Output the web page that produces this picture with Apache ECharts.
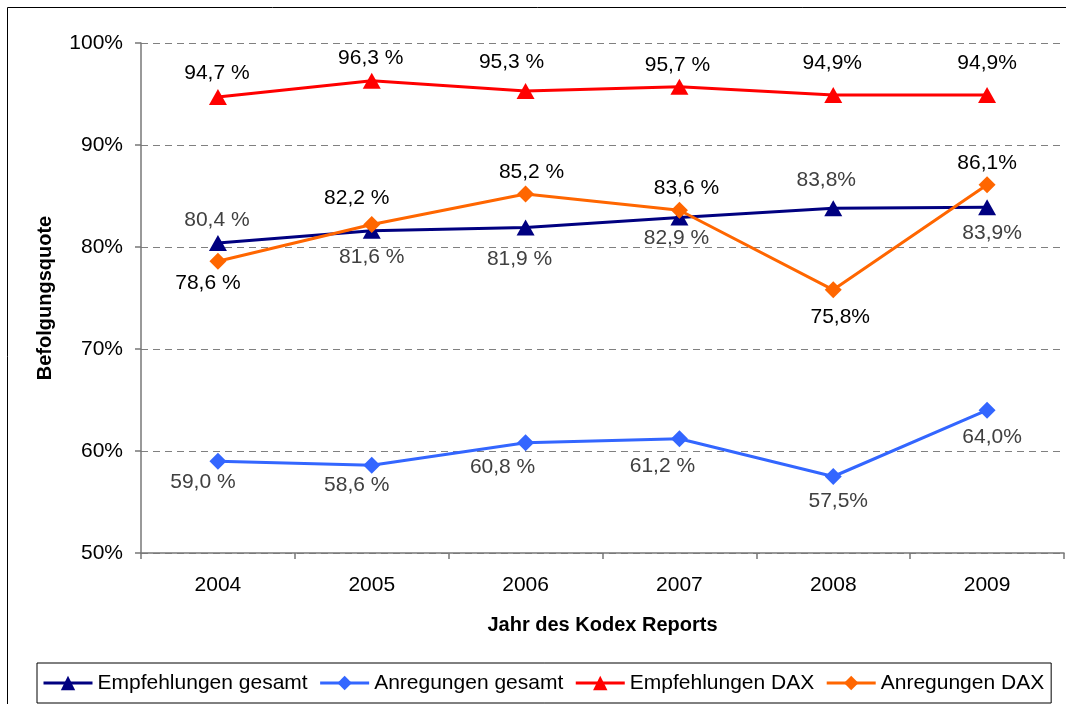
<!DOCTYPE html>
<html>
<head>
<meta charset="utf-8">
<script src="https://cdn.jsdelivr.net/npm/echarts@6/dist/echarts.min.js"></script>
<style>
  html, body { margin: 0; padding: 0; background: #fff; }
  #chart { width: 1066px; height: 704px; }
</style>
</head>
<body>
<div id="chart"></div>
<script>
// data
var years = ['2004', '2005', '2006', '2007', '2008', '2009'];
var empfGesamt = [80.4, 81.6, 81.9, 82.9, 83.8, 83.9];
var anrGesamt = [59.0, 58.6, 60.8, 61.2, 57.5, 64.0];
var empfDax = [94.7, 96.3, 95.3, 95.7, 94.9, 94.9];
var anrDax = [78.6, 82.2, 85.2, 83.6, 75.8, 86.1];

// label texts as printed
var empfGesamtText = ['80,4 %', '81,6 %', '81,9 %', '82,9 %', '83,8%', '83,9%'];
var anrGesamtText = ['59,0 %', '58,6 %', '60,8 %', '61,2 %', '57,5%', '64,0%'];
var empfDaxText = ['94,7 %', '96,3 %', '95,3 %', '95,7 %', '94,9%', '94,9%'];
var anrDaxText = ['78,6 %', '82,2 %', '85,2 %', '83,6 %', '75,8%', '86,1%'];

// label placement (px offset from the point)
var empfGesamtOff = [[-1, -23], [0, 27], [-6, 32], [-3, 21], [-7, -28], [5, 26]];
var anrGesamtOff = [[-15, 21], [-15, 20], [-23, 24], [-17, 27], [5, 25], [5, 27]];
var empfDaxOff = [[-1, -24], [-1, -23], [-14, -29], [-2, -22], [-1, -32], [0, -32]];
var anrDaxOff = [[-10, 22], [-15, -26], [6, -22], [7, -22], [7, 27], [0, -22]];

var FONT = '"Liberation Sans", Arial, sans-serif';

function points(values, texts, offs, color) {
  var out = [];
  for (var i = 0; i < values.length; i++) {
    out.push({
      value: values[i],
      label: {
        show: true,
        position: 'inside',
        offset: offs[i],
        formatter: texts[i],
        color: color,
        fontSize: 21,
        fontFamily: FONT
      }
    });
  }
  return out;
}

function lineSeries(name, color, symbol, size, values, texts, offs, labelColor) {
  return {
    name: name,
    type: 'line',
    symbol: symbol,
    symbolSize: size,
    showAllSymbol: true,
    lineStyle: { color: color, width: 3 },
    itemStyle: { color: color },
    emphasis: { disabled: true },
    data: points(values, texts, offs, labelColor)
  };
}

var chart = echarts.init(document.getElementById('chart'));
chart.setOption({
  animation: false,
  textStyle: { fontFamily: FONT },
  graphic: [{
    type: 'rect',
    shape: { x: 7.5, y: 7.5, width: 1070, height: 710 },
    style: { fill: 'none', stroke: '#000', lineWidth: 1 },
    silent: true
  }],
  grid: { left: 141, right: 2, top: 43, bottom: 151 },
  legend: {
    left: 37,
    top: 663,
    padding: [9, 7, 9, 5],
    itemGap: 11,
    itemWidth: 49,
    itemHeight: 18,
    borderColor: '#000',
    borderWidth: 1,
    lineStyle: { width: 3 },
    textStyle: { fontSize: 21, color: '#000', fontFamily: FONT, lineHeight: 22 },
    data: ['Empfehlungen gesamt', 'Anregungen gesamt', 'Empfehlungen DAX', 'Anregungen DAX']
  },
  xAxis: {
    type: 'category',
    data: years,
    boundaryGap: true,
    name: 'Jahr des Kodex Reports',
    nameLocation: 'middle',
    nameGap: 62,
    nameTextStyle: { fontSize: 20, fontWeight: 'bold', color: '#000', fontFamily: FONT },
    axisLine: { lineStyle: { color: '#777', width: 1.5 } },
    axisTick: { show: true, length: 6, interval: 0, lineStyle: { color: '#777', width: 1.5 } },
    axisLabel: { fontSize: 21, color: '#000', margin: 22, fontFamily: FONT }
  },
  yAxis: {
    type: 'value',
    min: 50,
    max: 100,
    interval: 10,
    name: 'Befolgungsquote',
    nameLocation: 'middle',
    nameGap: 86,
    nameTextStyle: { fontSize: 20, fontWeight: 'bold', color: '#000', fontFamily: FONT },
    axisLine: { show: true, lineStyle: { color: '#777', width: 1.5 } },
    axisTick: { show: true, length: 6, lineStyle: { color: '#777', width: 1.5 } },
    axisLabel: { fontSize: 21, color: '#000', margin: 18, formatter: '{value}%', fontFamily: FONT },
    splitLine: { show: true, lineStyle: { color: '#808080', type: [7, 5], width: 1 } }
  },
  series: [
    lineSeries('Empfehlungen gesamt', '#000080', 'triangle', [18, 16], empfGesamt, empfGesamtText, empfGesamtOff, '#404040'),
    lineSeries('Anregungen gesamt', '#3366FF', 'diamond', 17, anrGesamt, anrGesamtText, anrGesamtOff, '#404040'),
    lineSeries('Empfehlungen DAX', '#FF0000', 'triangle', [18, 16], empfDax, empfDaxText, empfDaxOff, '#000'),
    lineSeries('Anregungen DAX', '#FF6600', 'diamond', 17, anrDax, anrDaxText, anrDaxOff, '#000')
  ]
});
</script>
</body>
</html>
